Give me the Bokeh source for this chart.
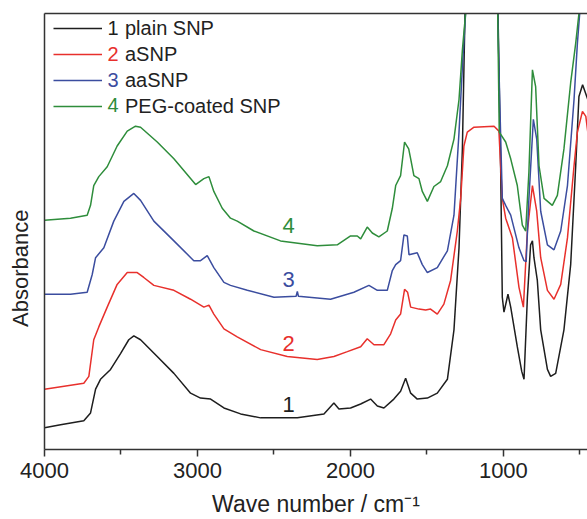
from bokeh.plotting import figure
from bokeh.models import Range1d, FixedTicker, LinearAxis, Legend, LegendItem, Label
from bokeh.embed import file_html
from bokeh.resources import INLINE

# ---------------- data ----------------
wn_plain = [4000, 3895, 3743, 3699, 3666, 3634, 3568, 3503, 3449, 3416, 3372, 3263, 3154, 3045,
            2980, 2914, 2827, 2718, 2587, 2347, 2173, 2108, 2075, 1999, 1933, 1868, 1824, 1781,
            1716, 1672, 1639, 1606, 1563, 1497, 1432, 1366, 1323, 1290, 1268, 1251, 1220, 1100,
            1050, 1035, 1018, 1007, 996, 970, 952, 909, 880, 865, 843, 822, 810, 800, 778, 756,
            712, 691, 658, 604, 560, 527, 506, 482, 448]
abs_plain = [0.22, 0.25, 0.29, 0.37, 0.61, 0.71, 0.81, 0.97, 1.11, 1.15, 1.11, 0.94, 0.77, 0.57,
             0.52, 0.51, 0.42, 0.36, 0.32, 0.32, 0.36, 0.47, 0.41, 0.42, 0.46, 0.51, 0.44, 0.42,
             0.51, 0.59, 0.72, 0.57, 0.51, 0.52, 0.57, 0.71, 1.21, 2.04, 3.04, 4.41, 5.2, 5.8,
             5.2, 4.41, 2.87, 1.54, 1.39, 1.57, 1.44, 1.04, 0.79, 0.71, 1.54, 2.07, 2.11, 1.94,
             1.71, 1.21, 0.81, 0.74, 0.77, 1.21, 1.87, 2.87, 3.57, 3.69, 3.54]

wn_a = [4000, 3743, 3710, 3678, 3645, 3590, 3525, 3459, 3394, 3351, 3285, 3154, 3045, 2958, 2925,
        2893, 2827, 2740, 2587, 2413, 2217, 2108, 2020, 1933, 1890, 1846, 1781, 1737, 1704, 1672,
        1646, 1626, 1606, 1552, 1508, 1476, 1432, 1389, 1345, 1301, 1279, 1258, 1236, 1192, 1061,
        1029, 1018, 1007, 985, 941, 898, 869, 843, 810, 782, 756, 712, 669, 625, 581, 538, 516,
        483, 461, 448]
abs_a = [0.61, 0.67, 0.74, 1.11, 1.24, 1.44, 1.67, 1.79, 1.79, 1.74, 1.66, 1.61, 1.52, 1.44, 1.46,
         1.37, 1.22, 1.14, 1.01, 0.94, 0.91, 0.94, 0.99, 1.04, 1.12, 1.06, 1.06, 1.17, 1.31, 1.37,
         1.62, 1.59, 1.44, 1.42, 1.41, 1.42, 1.37, 1.47, 1.71, 2.21, 2.54, 3.07, 3.21, 3.26, 3.27,
         3.22, 2.87, 2.54, 2.34, 2.14, 1.64, 1.44, 2.21, 2.67, 2.41, 1.94, 1.61, 1.52, 1.67, 2.14,
         2.87, 3.21, 3.42, 3.37, 3.21]

wn_aa = [4000, 3830, 3721, 3688, 3666, 3612, 3547, 3481, 3416, 3372, 3285, 3154, 3024, 2980, 2936,
         2893, 2827, 2784, 2674, 2500, 2355, 2347, 2340, 2130, 1977, 1879, 1824, 1759, 1726, 1704,
         1672, 1650, 1628, 1617, 1563, 1530, 1497, 1432, 1366, 1323, 1290, 1268, 1247, 1220, 1100,
         1050, 1037, 1024, 1007, 985, 952, 898, 865, 851, 833, 804, 782, 756, 712, 669, 625, 581,
         538, 516, 501, 470, 450]
abs_aa = [1.57, 1.57, 1.59, 1.77, 1.94, 2.04, 2.31, 2.51, 2.59, 2.52, 2.31, 2.11, 1.91, 1.91, 1.96,
          1.84, 1.69, 1.66, 1.61, 1.54, 1.55, 1.60, 1.55, 1.52, 1.59, 1.66, 1.61, 1.61, 1.81, 1.87,
          1.91, 2.17, 2.16, 1.97, 1.99, 1.87, 1.79, 1.84, 2.01, 2.37, 3.21, 3.87, 4.41, 5.2, 5.8,
          5.2, 4.41, 3.54, 2.54, 2.47, 2.37, 2.04, 1.91, 1.90, 2.54, 3.34, 3.14, 2.41, 2.07, 2.02,
          2.21, 2.67, 3.54, 4.11, 4.41, 4.8, 4.6]

wn_peg = [4000, 3830, 3721, 3699, 3678, 3645, 3590, 3525, 3459, 3405, 3372, 3263, 3154, 3012, 2958,
          2925, 2893, 2838, 2784, 2740, 2631, 2457, 2217, 2086, 1999, 1955, 1933, 1890, 1857, 1814,
          1759, 1726, 1704, 1672, 1646, 1619, 1606, 1585, 1552, 1530, 1497, 1454, 1410, 1366, 1323,
          1290, 1268, 1247, 1220, 1100, 1050, 1037, 1027, 985, 952, 909, 876, 854, 833, 810, 789,
          767, 734, 680, 647, 604, 560, 527, 506, 470, 450]
abs_peg = [2.32, 2.34, 2.37, 2.47, 2.67, 2.76, 2.86, 3.07, 3.22, 3.27, 3.26, 3.11, 2.94, 2.68, 2.74,
           2.76, 2.61, 2.44, 2.34, 2.31, 2.21, 2.11, 2.06, 2.07, 2.16, 2.16, 2.13, 2.25, 2.19, 2.15,
           2.21, 2.44, 2.67, 2.77, 3.11, 3.04, 2.94, 2.77, 2.74, 2.61, 2.51, 2.66, 2.71, 2.87, 3.14,
           3.54, 4.04, 4.41, 5.2, 5.8, 5.2, 4.41, 3.21, 3.11, 2.94, 2.67, 2.27, 2.21, 2.81, 3.84,
           3.67, 2.87, 2.54, 2.47, 2.57, 3.04, 3.71, 4.11, 4.41, 5.0, 4.8]

series_numbers = ["1", "2", "3", "4"]
series_names = ["plain SNP", "aSNP", "aaSNP", "PEG-coated SNP"]
x_ticks = [4000, 3000, 2000, 1000]
x_minor_ticks = [3500, 2500, 1500, 500]

# ---------------- styling / layout ----------------
colors = ["#1e1e1e", "#e8302c", "#3b4d9f", "#2e8d3b"]
FONT = "Liberation Sans"
TXT = "#222222"
AX = "#333333"

p = figure(width=587, height=519, output_backend="svg", toolbar_location=None,
           x_range=Range1d(4000, 450), y_range=Range1d(0, 4.41),
           min_border_left=44, min_border_right=0, min_border_top=13, min_border_bottom=0)
p.outline_line_color = None
p.xgrid.visible = False
p.ygrid.visible = False
p.background_fill_color = "white"

xa = p.xaxis[0]
xa.ticker = FixedTicker(ticks=x_ticks, minor_ticks=x_minor_ticks)
xa.major_tick_in = 0
xa.major_tick_out = 7
xa.minor_tick_in = 0
xa.minor_tick_out = 5
xa.major_tick_line_width = 1.5
xa.minor_tick_line_width = 1.5
xa.major_tick_line_color = AX
xa.minor_tick_line_color = AX
xa.axis_line_width = 1.5
xa.axis_line_color = AX
xa.major_label_text_font = FONT
xa.major_label_text_font_size = "22px"
xa.major_label_text_color = TXT
xa.major_label_standoff = 6
xa.axis_label = "Wave number / cm\u207b\u00b9"
xa.axis_label_text_font = FONT
xa.axis_label_text_font_size = "23px"
xa.axis_label_text_font_style = "normal"
xa.axis_label_text_color = TXT
xa.axis_label_standoff = 10

ya = p.yaxis[0]
ya.ticker = FixedTicker(ticks=[])
ya.major_tick_in = 0
ya.major_tick_out = 0
ya.minor_tick_in = 0
ya.minor_tick_out = 0
ya.axis_line_width = 1.5
ya.axis_line_color = AX
# trailing no-break spaces push the visible word below the frame centre, as in the original
ya.axis_label = "Absorbance" + "\u00a0" * 12
ya.axis_label_text_font = FONT
ya.axis_label_text_font_size = "22px"
ya.axis_label_text_font_style = "normal"
ya.axis_label_text_color = TXT
ya.axis_label_standoff = 12

top = LinearAxis(ticker=FixedTicker(ticks=[]), major_tick_in=0, major_tick_out=0,
                 minor_tick_in=0, minor_tick_out=0, axis_line_width=1.5, axis_line_color=AX,
                 major_label_text_font_size="0px")
p.add_layout(top, "above")

data = [(wn_plain, abs_plain), (wn_a, abs_a), (wn_aa, abs_aa), (wn_peg, abs_peg)]
renderers = []
for (xs, ys), c in zip(data, colors):
    renderers.append(p.line(xs, ys, line_color=c, line_width=1.5))

legend = Legend(items=[LegendItem(label=n, renderers=[r]) for n, r in zip(series_names, renderers)],
                location=(9, 330), glyph_width=49, glyph_height=26, label_height=26,
                spacing=0, padding=0, margin=0, label_standoff=23,
                border_line_color=None, background_fill_alpha=0,
                label_text_font=FONT, label_text_font_size="20px", label_text_color=TXT)
p.add_layout(legend)

# coloured numbers in legend rows (annotation positions)
legend_num_x = 3588
legend_num_y = [4.26, 4.00, 3.74, 3.48]
for num, c, yy in zip(series_numbers, colors, legend_num_y):
    p.add_layout(Label(x=legend_num_x, y=yy, text=num, text_color=c, text_font=FONT,
                       text_font_size="20px", text_align="left", text_baseline="middle"))

# curve number labels
curve_label_x = 2404
curve_label_y = [0.46, 1.07, 1.72, 2.27]
for num, c, yy in zip(series_numbers, colors, curve_label_y):
    p.add_layout(Label(x=curve_label_x, y=yy, text=num, text_color=c, text_font=FONT,
                       text_font_size="22px", text_align="center", text_baseline="middle"))

open("out.html", "w").write(file_html(p, INLINE))
